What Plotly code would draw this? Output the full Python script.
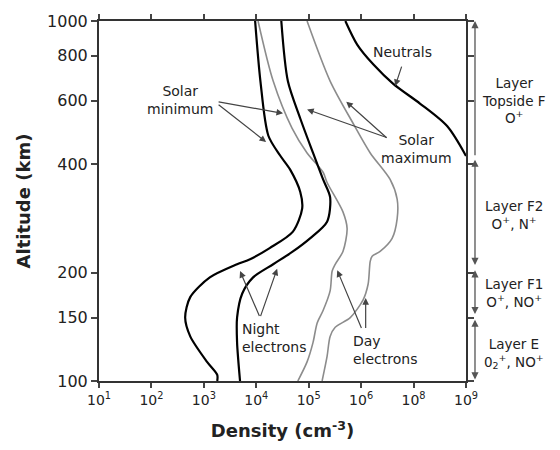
import numpy as np
import plotly.graph_objects as go

# ---------------- data ----------------
x_tickvals = [1e1, 1e2, 1e3, 1e4, 1e5, 1e6, 1e7, 1e8]
x_ticktext = ['10<sup>1</sup>', '10<sup>2</sup>', '10<sup>3</sup>', '10<sup>4</sup>',
              '10<sup>5</sup>', '10<sup>6</sup>', '10<sup>8</sup>', '10<sup>9</sup>']
y_tickvals = [100, 150, 200, 400, 600, 800, 1000]

night_min_alt = [1000, 680, 480, 423, 387, 335, 301, 260, 234, 218, 211, 194, 171, 150, 133, 113, 104, 100]
night_min_dens = [9.5e3, 1.2e4, 1.7e4, 2.85e4, 4.4e4, 6.9e4, 7.5e4, 5.0e4, 1.8e4, 7.6e3, 4.3e3,
                  1.3e3, 550, 440, 550, 1.15e3, 1.8e3, 1.8e3]

night_max_alt = [1000, 681, 536, 430, 363, 324, 277, 249, 229, 211, 194, 175, 150, 128, 100]
night_max_dens = [3.0e4, 4.0e4, 6.9e4, 1.21e5, 1.88e5, 2.56e5, 2.24e5, 1.06e5, 5.0e4, 2.1e4,
                  8.7e3, 5.4e3, 4.3e3, 4.3e3, 4.9e3]

day_min_alt = [1000, 681, 504, 430, 380, 356, 295, 265, 229, 211, 202, 178, 157, 145, 128, 113, 100]
day_min_dens = [1.08e4, 2.1e4, 4.8e4, 9.3e4, 1.88e5, 2.24e5, 4.5e5, 5.4e5, 4.5e5, 3.2e5, 2.8e5,
                2.56e5, 1.88e5, 1.45e5, 1.21e5, 9.3e4, 6.2e4]

day_max_alt = [1000, 681, 520, 430, 363, 320, 282, 249, 229, 222, 215, 186, 168, 150, 141, 133, 117, 100]
day_max_dens = [9.3e4, 2.56e5, 7.0e5, 1.49e6, 3.57e6, 4.86e6, 4.86e6, 3.9e6, 2.3e6, 1.62e6, 1.49e6,
                1.36e6, 1.09e6, 6.2e5, 3.2e5, 2.56e5, 2.24e5, 1.8e5]

neutral_alt = [1000, 860, 758, 669, 589, 510, 422]
neutral_dens = [5.0e5, 8.4e5, 1.7e6, 4.1e6, 1.34e7, 4.4e7, 1.0e8]

# layer boundaries (altitude) and labels
layer_bounds = [(1000, 420), (412, 208), (203, 152), (148, 100)]
layer_heads = ['end', 'end+start', 'end+start', 'end+start']
layer_labels = ['Layer<br>Topside F<br>O<sup>+</sup>',
                'Layer F2<br>O<sup>+</sup>, N<sup>+</sup>',
                'Layer F1<br>O<sup>+</sup>, NO<sup>+</sup>',
                'Layer E<br>0<sub>2</sub><sup>+</sup>, NO<sup>+</sup>']
layer_label_alt = [600, 290, 176, 119]

FONT = 'DejaVu Sans'
TXT = '#222222'
GRAY = '#8c8c8c'

fig = go.Figure()

def curve(x, y, color, width):
    fig.add_trace(go.Scatter(x=x, y=y, mode='lines', hoverinfo='skip',
                             line=dict(color=color, width=width, shape='spline', smoothing=0.8)))

curve(day_min_dens, day_min_alt, GRAY, 1.6)
curve(day_max_dens, day_max_alt, GRAY, 1.6)
curve(night_min_dens, night_min_alt, 'black', 2.2)
curve(night_max_dens, night_max_alt, 'black', 2.2)
curve(neutral_dens, neutral_alt, 'black', 2.2)

L = np.log10
ann = []

def arrow(tail, tip, color='#444444'):
    ann.append(dict(x=L(tip[0]), y=L(tip[1]), ax=L(tail[0]), ay=L(tail[1]),
                    xref='x', yref='y', axref='x', ayref='y', text='', showarrow=True,
                    arrowhead=2, arrowsize=1.1, arrowwidth=1.2, arrowcolor=color))

# Solar minimum
arrow((1.79e3, 597), (3.24e4, 554))
arrow((1.79e3, 590), (1.54e4, 461))
# Solar maximum
arrow((3.27e6, 473), (9.3e4, 568))
arrow((3.27e6, 470), (5.2e5, 597))
# Neutrals
arrow((6.05e6, 754), (4.46e6, 660))
# Night electrons
arrow((1.18e4, 150), (4.9e3, 202))
arrow((1.18e4, 150), (2.5e4, 205))
# Day electrons
arrow((1.04e6, 139), (3.5e5, 203))
arrow((1.22e6, 139), (1.22e6, 170))

def text(s, xp, yp, xanchor='center', size=14):
    ann.append(dict(x=xp, y=yp, xref='paper', yref='paper', text=s, showarrow=False,
                    xanchor=xanchor, yanchor='middle', align=xanchor if xanchor != 'center' else 'center',
                    font=dict(family=FONT, size=size, color=TXT)))

text('Solar<br>minimum', 0.221, 0.781)
text('Solar<br>maximum', 0.866, 0.645)
text('Neutrals', 0.828, 0.913)
text('Night<br>electrons', 0.384, 0.120, xanchor='left')
text('Day<br>electrons', 0.686, 0.085, xanchor='left')

# layer arrows on the right
xr = 1.0245
for (top, bot), side in zip(layer_bounds, layer_heads):
    ann.append(dict(x=xr, y=L(top), ax=0, ay=L(bot), xref='paper', yref='y', axref='pixel', ayref='y',
                    text='', showarrow=True, arrowhead=2, arrowside=side, arrowsize=1.1,
                    arrowwidth=1.3, arrowcolor='#555555'))
for lab, a in zip(layer_labels, layer_label_alt):
    ann.append(dict(x=1.131, y=L(a), xref='paper', yref='y', text=lab, showarrow=False,
                    xanchor='center', yanchor='middle', align='center',
                    font=dict(family=FONT, size=13.5, color=TXT)))

fig.update_layout(
    width=560, height=450,
    margin=dict(l=99, r=94, t=16, b=68),
    paper_bgcolor='white', plot_bgcolor='white',
    showlegend=False,
    annotations=ann,
    xaxis=dict(type='log', range=[1, 8], tickvals=x_tickvals, ticktext=x_ticktext,
               ticks='outside', ticklen=5, tickwidth=1.5, tickcolor='#444444',
               showline=True, linecolor='#333333', linewidth=2, mirror='allticks',
               showgrid=False, zeroline=False,
               tickfont=dict(family=FONT, size=14, color=TXT),
               title=dict(text='<b>Density (cm<sup>-3</sup>)</b>', standoff=18,
                          font=dict(family=FONT, size=18, color=TXT))),
    yaxis=dict(type='log', range=[2, 3], tickvals=y_tickvals, ticktext=[str(v) for v in y_tickvals],
               ticks='outside', ticklen=6, tickwidth=1.5, tickcolor='#444444',
               showline=True, linecolor='#333333', linewidth=2, mirror='allticks',
               showgrid=False, zeroline=False,
               tickfont=dict(family=FONT, size=16, color=TXT),
               title=dict(text='<b>Altitude (km)</b>', standoff=12,
                          font=dict(family=FONT, size=18, color=TXT))),
)

fig.write_html('out.html')
